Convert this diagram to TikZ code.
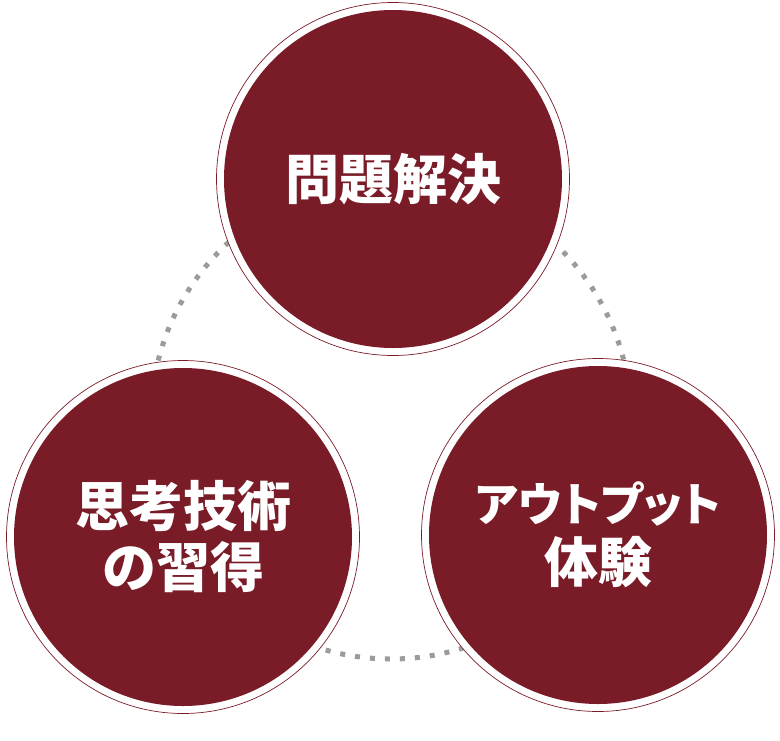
\documentclass[tikz,border=0pt]{standalone}
\usepackage{fontspec}
\newfontfamily\jpfont{Noto Sans CJK JP}
\newfontfamily\jpkana{Noto Sans CJK JP}[RawFeature=+palt]
\definecolor{wine}{HTML}{7A1C28}
\definecolor{dotgray}{HTML}{9B9B9B}

\begin{document}
\begin{tikzpicture}[x=1pt, y=-1pt,
  bubble/.style={circle, draw=wine, line width=0.7pt, fill=white,
    minimum size=353pt, inner sep=0pt, text=white, align=center,
    font=\jpfont\bfseries\fontsize{54}{61}\selectfont,
    path picture={\fill[wine] (path picture bounding box.center) circle (169pt);}},
  loop/.style={dotgray, line width=5pt, dash pattern=on 5pt off 10pt}]
  \useasboundingbox (0,0) rectangle (780,740);

  % ---- dotted cycle behind the bubbles ----
  \coordinate (hub) at (391,419);
  \draw[loop] (hub) circle (240pt);

  % ---- bubbles ----
  \node[bubble] (solve) at (393,179) {問題解決};
  \node[bubble] (think) at (183,537) {思考技術\\の習得};
  \node[bubble] (output) at (598,535)
    {{\jpkana\fontsize{46}{61}\selectfont アウトプット}\\体験};
\end{tikzpicture}
\end{document}
